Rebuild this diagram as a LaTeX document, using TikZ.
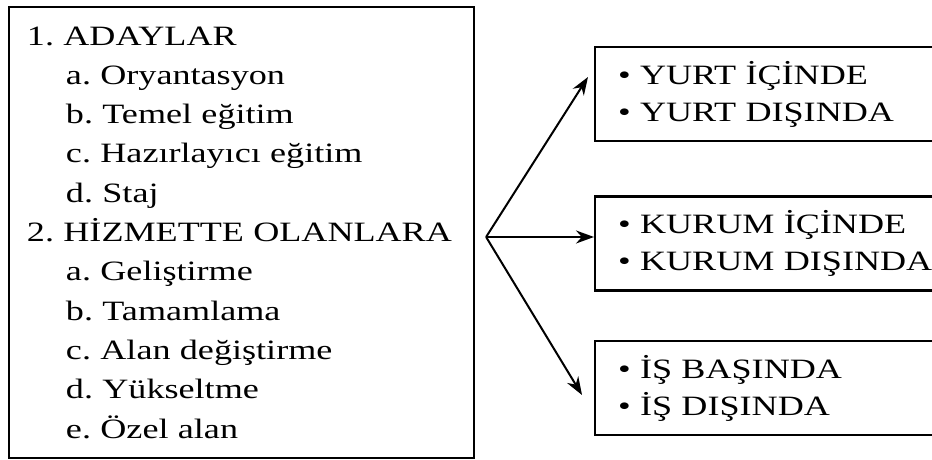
\documentclass[tikz,border=0pt]{standalone}
\usepackage{fontspec}
\setmainfont{Liberation Serif}[FakeStretch=1.29]
\usetikzlibrary{positioning,arrows.meta}
\tikzset{%
  listbox/.style   = {shape=rectangle, draw, line width=2.2pt, align=left,%
                      text width=429pt, inner xsep=18pt, minimum height=451pt,%
                      font=\fontsize{28}{39.3}\selectfont},%
  choicebox/.style = {shape=rectangle, draw, line width=2.2pt, align=left,%
                      text width=340pt, inner xsep=23pt, minimum height=94pt,%
                      font=\fontsize{28}{37}\selectfont},%
  branch/.style    = {line width=2pt, -{Stealth[length=18pt,width=13pt]}}%
}
\newcommand{\indentitem}{\hspace*{39pt}}
\frenchspacing

\begin{document}
\begin{tikzpicture}[x=1pt, y=1pt]%
	\useasboundingbox (0,0) rectangle (932,460);
	% left list
	\node[listbox] (list) at (241.5,227.5) {%
		1. ADAYLAR\\
		\indentitem a. Oryantasyon\\
		\indentitem b. Temel eğitim\\
		\indentitem c. Hazırlayıcı eğitim\\
		\indentitem d. Staj\\
		2. HİZMETTE OLANLARA\\
		\indentitem a. Geliştirme\\
		\indentitem b. Tamamlama\\
		\indentitem c. Alan değiştirme\\
		\indentitem d. Yükseltme\\
		\indentitem e. Özel alan};%
	% right boxes
	\node[choicebox, anchor=west] (yurt) at (594,366) {• YURT İÇİNDE\\• YURT DIŞINDA};%
	\node[choicebox, anchor=west] (kurum) at (594,216.5) {• KURUM İÇİNDE\\• KURUM DIŞINDA};%
	\node[choicebox, anchor=west] (is) at (594,72) {• İŞ BAŞINDA\\• İŞ DIŞINDA};%
	% arrows
	\coordinate (hub) at ([shift={(11,-4.5)}]list.east);
	\coordinate (yurtend) at ([shift={(-6,17)}]yurt.west);
	\coordinate (isend) at ([shift={(-12,-7)}]is.west);
	\draw[branch] (hub) -- (yurtend);
	\draw[branch] (hub) -- (hub -| kurum.west);
	\draw[branch] (hub) -- (isend);
\end{tikzpicture}
\end{document}
